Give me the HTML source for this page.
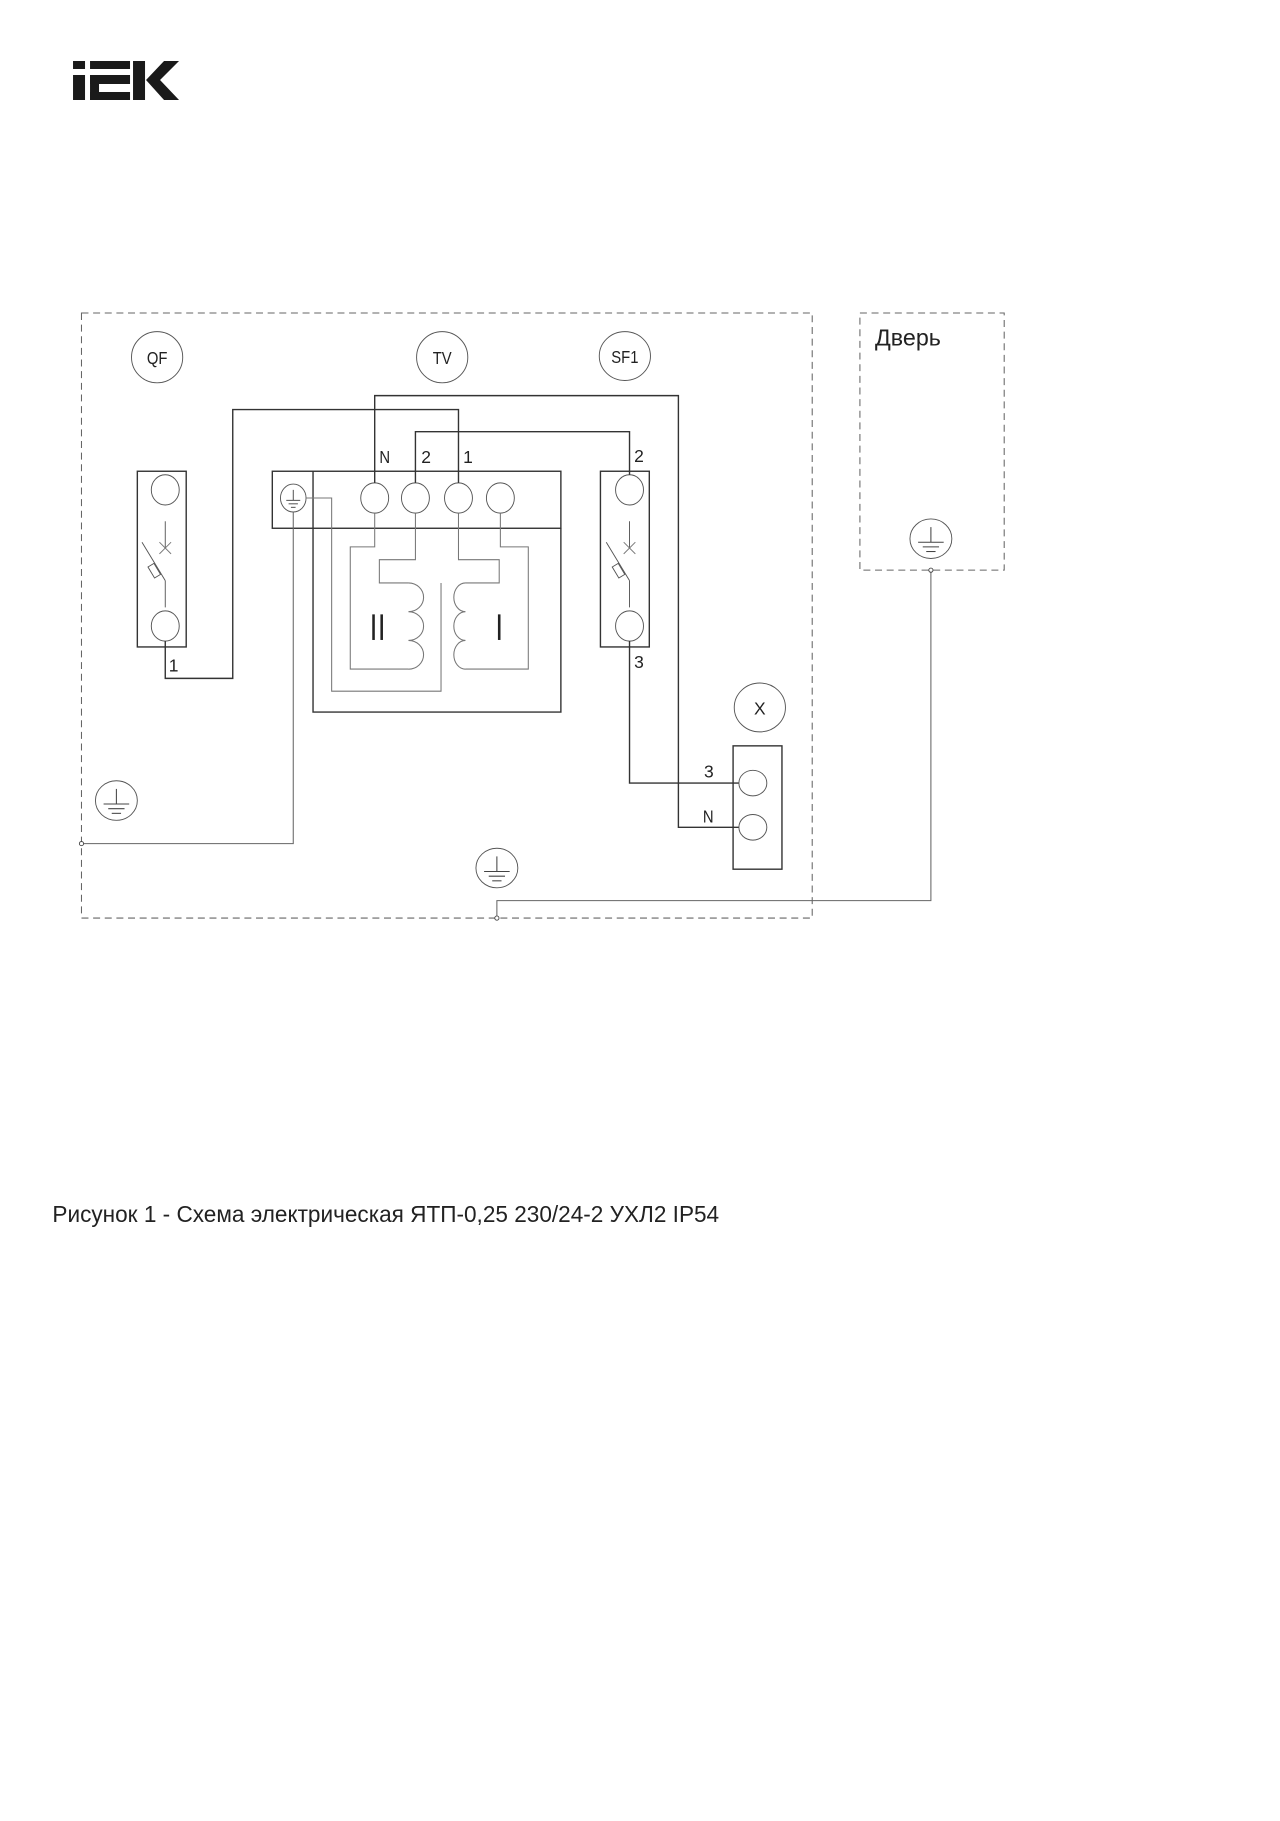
<!DOCTYPE html>
<html><head><meta charset="utf-8"><style>
html,body{margin:0;padding:0;background:#fff;}
svg{display:block;}
text{font-family:"Liberation Sans","DejaVu Sans",sans-serif;fill:#222;}
</style></head><body>
<svg width="1280" height="1821" viewBox="0 0 1100 1565" xmlns="http://www.w3.org/2000/svg">
<defs>
<g id="gnd">
  <ellipse cx="0" cy="0" rx="18" ry="17" fill="none" stroke="#555" stroke-width="0.8"/>
  <line x1="0" y1="-10" x2="0" y2="3" stroke="#444" stroke-width="0.9"/>
  <line x1="-11" y1="3" x2="11" y2="3" stroke="#444" stroke-width="0.9"/>
  <line x1="-7" y1="7" x2="7" y2="7" stroke="#444" stroke-width="0.9"/>
  <line x1="-4" y1="11" x2="4" y2="11" stroke="#444" stroke-width="0.9"/>
</g>
<g id="brk">
  <line x1="0" y1="-36" x2="0" y2="-13" stroke="#555" stroke-width="0.8"/>
  <line x1="-5" y1="-18" x2="5" y2="-8" stroke="#777" stroke-width="0.8"/>
  <line x1="5" y1="-18" x2="-5" y2="-8" stroke="#777" stroke-width="0.8"/>
  <line x1="-20" y1="-18" x2="0" y2="15" stroke="#555" stroke-width="0.8"/>
  <rect x="-5" y="-5" width="6" height="11" fill="#fff" stroke="#555" stroke-width="0.8" transform="translate(-8,5) rotate(-31)"/>
  <line x1="0" y1="15" x2="0" y2="38" stroke="#555" stroke-width="0.8"/>
</g>
</defs>

<!-- Logo (original coords) -->
<g transform="scale(0.8594)" fill="#1a1a1a">
  <rect x="73" y="61" width="12" height="8"/>
  <rect x="73" y="75" width="12" height="25"/>
  <rect x="90" y="61" width="40" height="8"/>
  <rect x="90" y="75" width="40" height="9"/>
  <rect x="90" y="75" width="9" height="25"/>
  <rect x="90" y="92" width="40" height="8"/>
  <rect x="133" y="61" width="12" height="39"/>
  <polygon points="146,80 164,61 179,61 160,80 179,100 164,100"/>
</g>

<!-- Enclosures -->
<rect x="70" y="269" width="628" height="520" fill="none" stroke="#666" stroke-width="0.9" stroke-dasharray="6,4"/>
<rect x="739" y="269" width="124" height="221" fill="none" stroke="#666" stroke-width="0.9" stroke-dasharray="6,4"/>
<text x="752" y="297" font-size="20">Дверь</text>

<!-- Label ellipses -->
<g fill="none" stroke="#555" stroke-width="0.8">
  <ellipse cx="135" cy="307" rx="22" ry="22"/>
  <ellipse cx="380" cy="307" rx="22" ry="22"/>
  <ellipse cx="537" cy="306" rx="22" ry="21"/>
  <ellipse cx="653" cy="608" rx="22" ry="21"/>
</g>
<g font-size="15" text-anchor="middle">
  <text x="135" y="313" transform="translate(135,0) scale(0.85,1) translate(-135,0)">QF</text>
  <text x="380" y="313" transform="translate(380,0) scale(0.85,1) translate(-380,0)">TV</text>
  <text x="537" y="312" transform="translate(537,0) scale(0.85,1) translate(-537,0)">SF1</text>
  <text x="653" y="614">X</text>
</g>

<!-- QF breaker -->
<rect x="118" y="405" width="42" height="151" fill="none" stroke="#333" stroke-width="1.2"/>
<ellipse cx="142" cy="421" rx="12" ry="13" fill="none" stroke="#555" stroke-width="0.8"/>
<ellipse cx="142" cy="538" rx="12" ry="13" fill="none" stroke="#555" stroke-width="0.8"/>
<use href="#brk" transform="translate(142,484)"/>

<!-- SF1 breaker -->
<rect x="516" y="405" width="42" height="151" fill="none" stroke="#333" stroke-width="1.2"/>
<ellipse cx="541" cy="421" rx="12" ry="13" fill="none" stroke="#555" stroke-width="0.8"/>
<ellipse cx="541" cy="538" rx="12" ry="13" fill="none" stroke="#555" stroke-width="0.8"/>
<use href="#brk" transform="translate(541,484)"/>

<!-- TV strip -->
<rect x="234" y="405" width="248" height="49" fill="none" stroke="#333" stroke-width="1.2"/>
<polyline points="269,405 269,612 482,612 482,454" fill="none" stroke="#333" stroke-width="1.2"/>
<ellipse cx="252" cy="428" rx="11" ry="12" fill="none" stroke="#555" stroke-width="0.8"/>
<g stroke="#444" stroke-width="0.8">
  <line x1="252" y1="421" x2="252" y2="430"/>
  <line x1="246" y1="430" x2="258" y2="430"/>
  <line x1="248" y1="433" x2="256" y2="433"/>
  <line x1="250" y1="436" x2="254" y2="436"/>
</g>
<g fill="none" stroke="#555" stroke-width="0.8">
  <ellipse cx="322" cy="428" rx="12" ry="13"/>
  <ellipse cx="357" cy="428" rx="12" ry="13"/>
  <ellipse cx="394" cy="428" rx="12" ry="13"/>
  <ellipse cx="430" cy="428" rx="12" ry="13"/>
</g>

<!-- Transformer inner wiring (thin gray) -->
<g fill="none" stroke="#777" stroke-width="0.9">
  <polyline points="322,441 322,470 301,470 301,575 351,575"/>
  <polyline points="357,441 357,481 326,481 326,501 351,501"/>
  <polyline points="394,441 394,481 429,481 429,501 400,501"/>
  <polyline points="430,441 430,470 454,470 454,575 400,575"/>
  <polyline points="379,501 379,594 285,594 285,428 263,428"/>
  <path d="M351,501 a13,12.35 0 0 1 0,24.7 a13,12.35 0 0 1 0,24.7 a13,12.35 0 0 1 0,24.7"/>
  <path d="M400,501 a10,12.35 0 0 0 0,24.7 a10,12.35 0 0 0 0,24.7 a10,12.35 0 0 0 0,24.7"/>
</g>
<g stroke="#222" stroke-width="2.2">
  <line x1="321" y1="528" x2="321" y2="550"/>
  <line x1="328" y1="528" x2="328" y2="550"/>
  <line x1="429" y1="528" x2="429" y2="550"/>
</g>

<!-- Main wires -->
<g fill="none" stroke="#333" stroke-width="1.2">
  <polyline points="142,551 142,583 200,583 200,352 394,352 394,415"/>
  <polyline points="322,415 322,340 583,340 583,711 635,711"/>
  <polyline points="357,415 357,371 541,371 541,408"/>
  <polyline points="541,551 541,673 635,673"/>
</g>
<g fill="none" stroke="#666" stroke-width="0.9">
  <polyline points="72,725 252,725 252,440"/>
  <polyline points="427,787 427,774 800,774 800,492"/>
</g>
<circle cx="70" cy="725" r="1.8" fill="#fff" stroke="#444" stroke-width="0.8"/>
<circle cx="427" cy="789" r="1.8" fill="#fff" stroke="#444" stroke-width="0.8"/>
<circle cx="800" cy="490" r="1.8" fill="#fff" stroke="#444" stroke-width="0.8"/>

<!-- X block -->
<rect x="630" y="641" width="42" height="106" fill="none" stroke="#333" stroke-width="1.2"/>
<ellipse cx="647" cy="673" rx="12" ry="11" fill="none" stroke="#555" stroke-width="0.8"/>
<ellipse cx="647" cy="711" rx="12" ry="11" fill="none" stroke="#555" stroke-width="0.8"/>

<!-- Ground symbols -->
<use href="#gnd" transform="translate(100,688)"/>
<use href="#gnd" transform="translate(427,746)"/>
<use href="#gnd" transform="translate(800,463)"/>

<!-- Wire labels -->
<g font-size="15">
  <text x="326" y="398" transform="translate(326,0) scale(0.85,1) translate(-326,0)">N</text>
  <text x="362" y="398">2</text>
  <text x="398" y="398">1</text>
  <text x="545" y="397">2</text>
  <text x="545" y="574">3</text>
  <text x="145" y="577">1</text>
  <text x="605" y="668">3</text>
  <text x="604" y="707" transform="translate(604,0) scale(0.85,1) translate(-604,0)">N</text>
</g>

<!-- Caption -->
<text x="45" y="1050" font-size="20" textLength="573" lengthAdjust="spacingAndGlyphs">Рисунок 1 - Схема электрическая ЯТП-0,25 230/24-2 УХЛ2 IP54</text>
</svg>
</body></html>
